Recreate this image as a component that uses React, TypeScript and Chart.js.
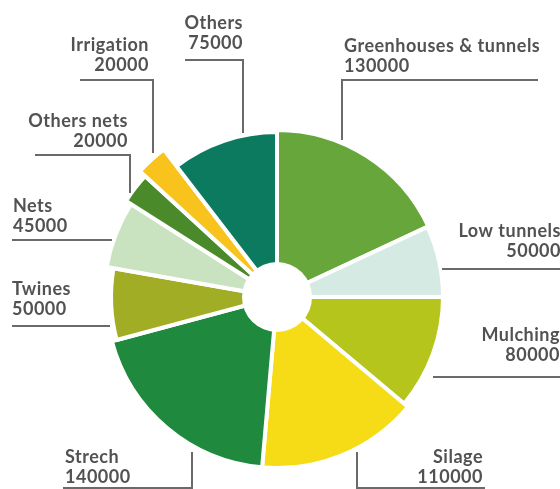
import React, { useEffect, useRef } from "react";
import { Chart, registerables } from "chart.js";

Chart.register(...registerables);

// ---- data ----
const categories = [
  "Greenhouses & tunnels",
  "Low tunnels",
  "Mulching",
  "Silage",
  "Strech",
  "Twines",
  "Nets",
  "Others nets",
  "Irrigation",
  "Others",
];
const tonnes = [130000, 50000, 80000, 110000, 140000, 50000, 45000, 20000, 20000, 75000];
// relative outer extent of each wedge (the picture pulls a few wedges further out)
const wedgeExtent = [167, 166, 166, 171, 171, 166, 173, 179, 186, 165];

const colors = [
  "#67a63a",
  "#d4eae3",
  "#b6c51c",
  "#f6dc16",
  "#1f893d",
  "#a1ae25",
  "#c9e3c0",
  "#4b8a2b",
  "#f7c31c",
  "#0b7a5f",
];

// ---- callout layout (annotation positions) ----
type Callout = {
  align: CanvasTextAlign;
  x: number;
  y: number;
  path: number[][];
};
const callouts: Callout[] = [
  { align: "left", x: 344, y: 52, path: [[538, 80], [342, 80], [342, 140]] },
  { align: "right", x: 561, y: 237, path: [[442, 269], [562, 269]] },
  { align: "right", x: 560, y: 341, path: [[433, 377], [562, 377]] },
  { align: "right", x: 483, y: 463, path: [[357, 452], [357, 488], [485, 488]] },
  { align: "left", x: 65, y: 463, path: [[192, 452], [192, 488], [63, 488]] },
  { align: "left", x: 12, y: 295, path: [[12, 326], [110, 326]] },
  { align: "left", x: 13, y: 212, path: [[12, 240], [112, 240]] },
  { align: "right", x: 128, y: 127, path: [[35, 155], [130, 155], [130, 193]] },
  { align: "right", x: 149, y: 51, path: [[80, 80], [153, 80], [153, 153]] },
  { align: "right", x: 243, y: 29, path: [[185, 60], [243, 60], [243, 133]] },
];

const total = tonnes.reduce((a, b) => a + b, 0);

const calloutPlugin = {
  id: "callouts",
  afterDatasetsDraw(chart: any) {
    const ctx = chart.ctx as CanvasRenderingContext2D;
    const r = chart.scales.r;
    ctx.save();
    ctx.fillStyle = "#ffffff";
    ctx.beginPath();
    ctx.arc(r.xCenter, r.yCenter, 35, 0, Math.PI * 2);
    ctx.fill();
    ctx.restore();
  },
  afterDraw(chart: any) {
    const ctx = chart.ctx as CanvasRenderingContext2D;
    ctx.save();
    ctx.strokeStyle = "#6a6a6a";
    ctx.lineWidth = 2;
    ctx.fillStyle = "#525252";
    ctx.font = "bold 18px Lato";
    (ctx as any).letterSpacing = "0.5px";
    ctx.textBaseline = "alphabetic";
    categories.forEach((name, i) => {
      const c = callouts[i];
      ctx.beginPath();
      c.path.forEach((p, k) => (k === 0 ? ctx.moveTo(p[0], p[1]) : ctx.lineTo(p[0], p[1])));
      ctx.stroke();
      ctx.textAlign = c.align;
      ctx.fillText(name, c.x, c.y);
      ctx.fillText(String(tonnes[i]), c.x, c.y + 20);
    });
    ctx.restore();
  },
};

export default function App() {
  const ref = useRef<HTMLCanvasElement | null>(null);
  useEffect(() => {
    if (!ref.current) return;
    const chart = new Chart(ref.current, {
      type: "polarArea",
      data: {
        labels: categories,
        datasets: [
          {
            data: wedgeExtent,
            backgroundColor: colors,
            borderColor: "#ffffff",
            borderWidth: 4,
            angle: (ctx: any) => (tonnes[ctx.dataIndex] / total) * 360,
            clip: false,
          } as any,
        ],
      },
      options: {
        animation: false,
        responsive: false,
        startAngle: 0,
        layout: { padding: { left: 77, right: 83, top: 107, bottom: 2 } },
        scales: {
          r: { display: false, min: 0, max: 190 },
        },
        plugins: {
          legend: { display: false },
          tooltip: { enabled: false },
        },
      } as any,
      plugins: [calloutPlugin],
    });
    return () => chart.destroy();
  }, []);
  return (
    <div style={{ position: "fixed", left: 0, top: 0, width: 560, height: 489, background: "#fff" }}>
      <canvas ref={ref} width={560} height={489} style={{ display: "block" }} />
    </div>
  );
}
